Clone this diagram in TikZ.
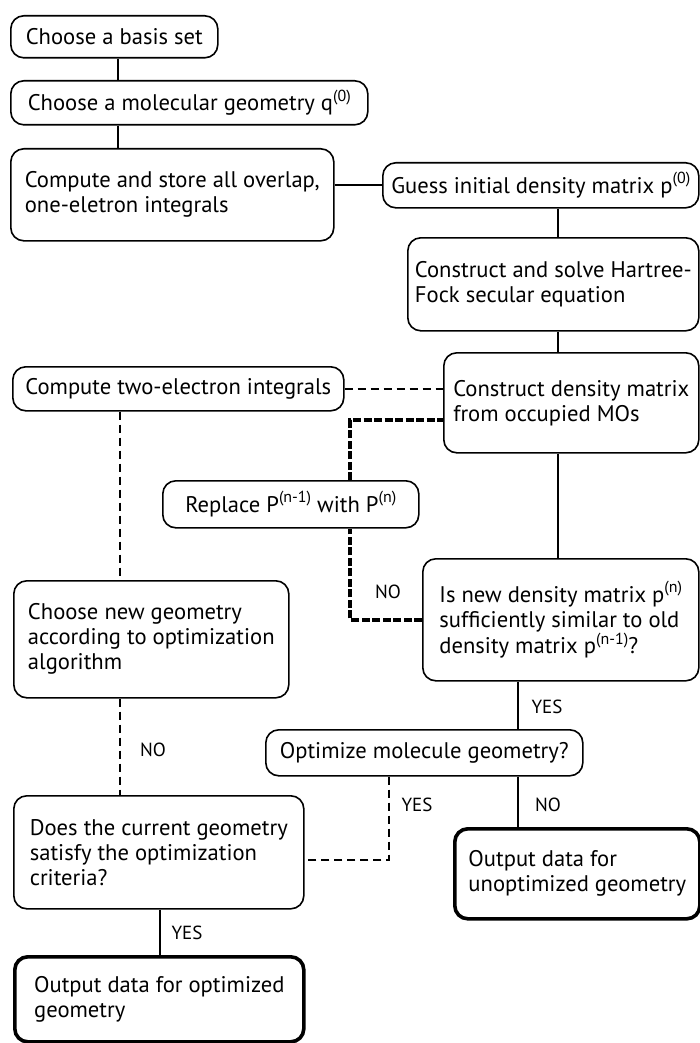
\documentclass[tikz,border=0pt]{standalone}
\usepackage{fontspec}
\setmainfont{PT Sans}
\usetikzlibrary{arrows.meta}

\newcommand{\upidx}[1]{\raisebox{0.42em}{\fontsize{16}{16}\selectfont #1}}

\tikzset{
	box/.style={draw, line width=1.6pt, rounded corners=13pt, fill=white, anchor=north west, align=left, inner sep=0pt, font=\fontsize{22.6}{25}\selectfont},
	outbox/.style={box, line width=3.6pt},
	solidline/.style={line width=1.6pt},
	dashline/.style={line width=1.6pt, dash pattern=on 8pt off 5pt},
	backline/.style={line width=4pt, dash pattern=on 8pt off 2.5pt},
	lbl/.style={font=\fontsize{19}{20}\selectfont}
}

\begin{document}
\begin{tikzpicture}[x=1pt,y=-1pt]
	\useasboundingbox (0,0) rectangle (700,1043);

	\node[box, minimum width=207pt, minimum height=42pt] (basis) at (10,15) {Choose a basis set};
	\node[box, minimum width=357pt, minimum height=44pt] (geom) at (10,80) {Choose a molecular geometry q\upidx{(0)}};
	\node[box, minimum width=323pt, minimum height=92pt] (overlap) at (10,148) {Compute and store all overlap,\\one-eletron integrals};
	\node[box, minimum width=316pt, minimum height=45pt] (guess) at (382,162) {Guess initial density matrix p\upidx{(0)}};
	\node[box, minimum width=291pt, minimum height=93pt] (hf) at (407,237) {Construct and solve Hartree-\\Fock secular equation};
	\node[box, minimum width=255pt, minimum height=100pt] (dens) at (443,352) {Construct density matrix\\from occupied MOs};
	\node[box, minimum width=331pt, minimum height=44pt] (twoel) at (12,366) {Compute two-electron integrals};
	\node[box, minimum width=256pt, minimum height=47pt] (repl) at (162,480) {Replace P\upidx{(n-1)} with P\upidx{(n)}};
	\node[box, minimum width=276pt, minimum height=122pt] (check) at (422,558) {Is new density matrix p\upidx{(n)}\\sufficiently similar to old\\density matrix p\upidx{(n-1)}?};
	\node[box, minimum width=275pt, minimum height=117pt] (newgeo) at (13,580) {Choose new geometry\\according to optimization\\algorithm};
	\node[box, minimum width=317pt, minimum height=46pt] (opt) at (265,729) {Optimize molecule geometry?};
	\node[box, minimum width=290pt, minimum height=113pt] (does) at (13,795) {Does the current geometry\\satisfy the optimization\\criteria?};
	\node[outbox, minimum width=245pt, minimum height=90pt] (unopt) at (453,827) {Output data for\\unoptimized geometry};
	\node[outbox, minimum width=289pt, minimum height=85pt] (optout) at (13,955) {Output data for optimized\\geometry};

	\coordinate (xa) at (118,0);
	\coordinate (xb) at (558,0);
	\coordinate (xc) at (518,0);
	\coordinate (xe) at (120,0);
	\coordinate (xf) at (160,0);
	\coordinate (ta) at (350,420);
	\coordinate (tc) at (389,860);

	\draw[solidline] (basis.south -| xa) -- (geom.north -| xa);
	\draw[solidline] (geom.south -| xa) -- (overlap.north -| xa);
	\draw[solidline] (overlap.east |- guess.west) -- (guess.west);
	\draw[solidline] (guess.south -| xb) -- (hf.north -| xb);
	\draw[solidline] (hf.south -| xb) -- (dens.north -| xb);
	\draw[solidline] (dens.south -| xb) -- (check.north -| xb);
	\draw[solidline] (check.south -| xc) -- (opt.north -| xc);
	\draw[solidline] (opt.south -| xc) -- (unopt.north -| xc);
	\draw[solidline] (does.south -| xf) -- (optout.north -| xf);

	\draw[dashline] (twoel.east) -- (twoel.east -| dens.west);
	\draw[dashline] (twoel.south -| xe) -- (newgeo.north -| xe);
	\draw[dashline] (newgeo.south -| xe) -- (does.north -| xe);
	\draw[dashline] (opt.south -| tc) -- (tc) -- (tc -| does.east);

	\draw[backline] (check.west) -- (check.west -| ta) -- (ta |- repl.south);
	\draw[backline] (ta |- repl.north) -- (ta) -- (ta -| dens.west);

	\node[lbl] (no1) at (388,592) {NO};
	\node[lbl] (yes1) at (547,707) {YES};
	\node[lbl] (yes2) at (417,805) {YES};
	\node[lbl] (no2) at (548,805) {NO};
	\node[lbl] (no3) at (153,750) {NO};
	\node[lbl] (yes3) at (187,933) {YES};
\end{tikzpicture}
\end{document}
